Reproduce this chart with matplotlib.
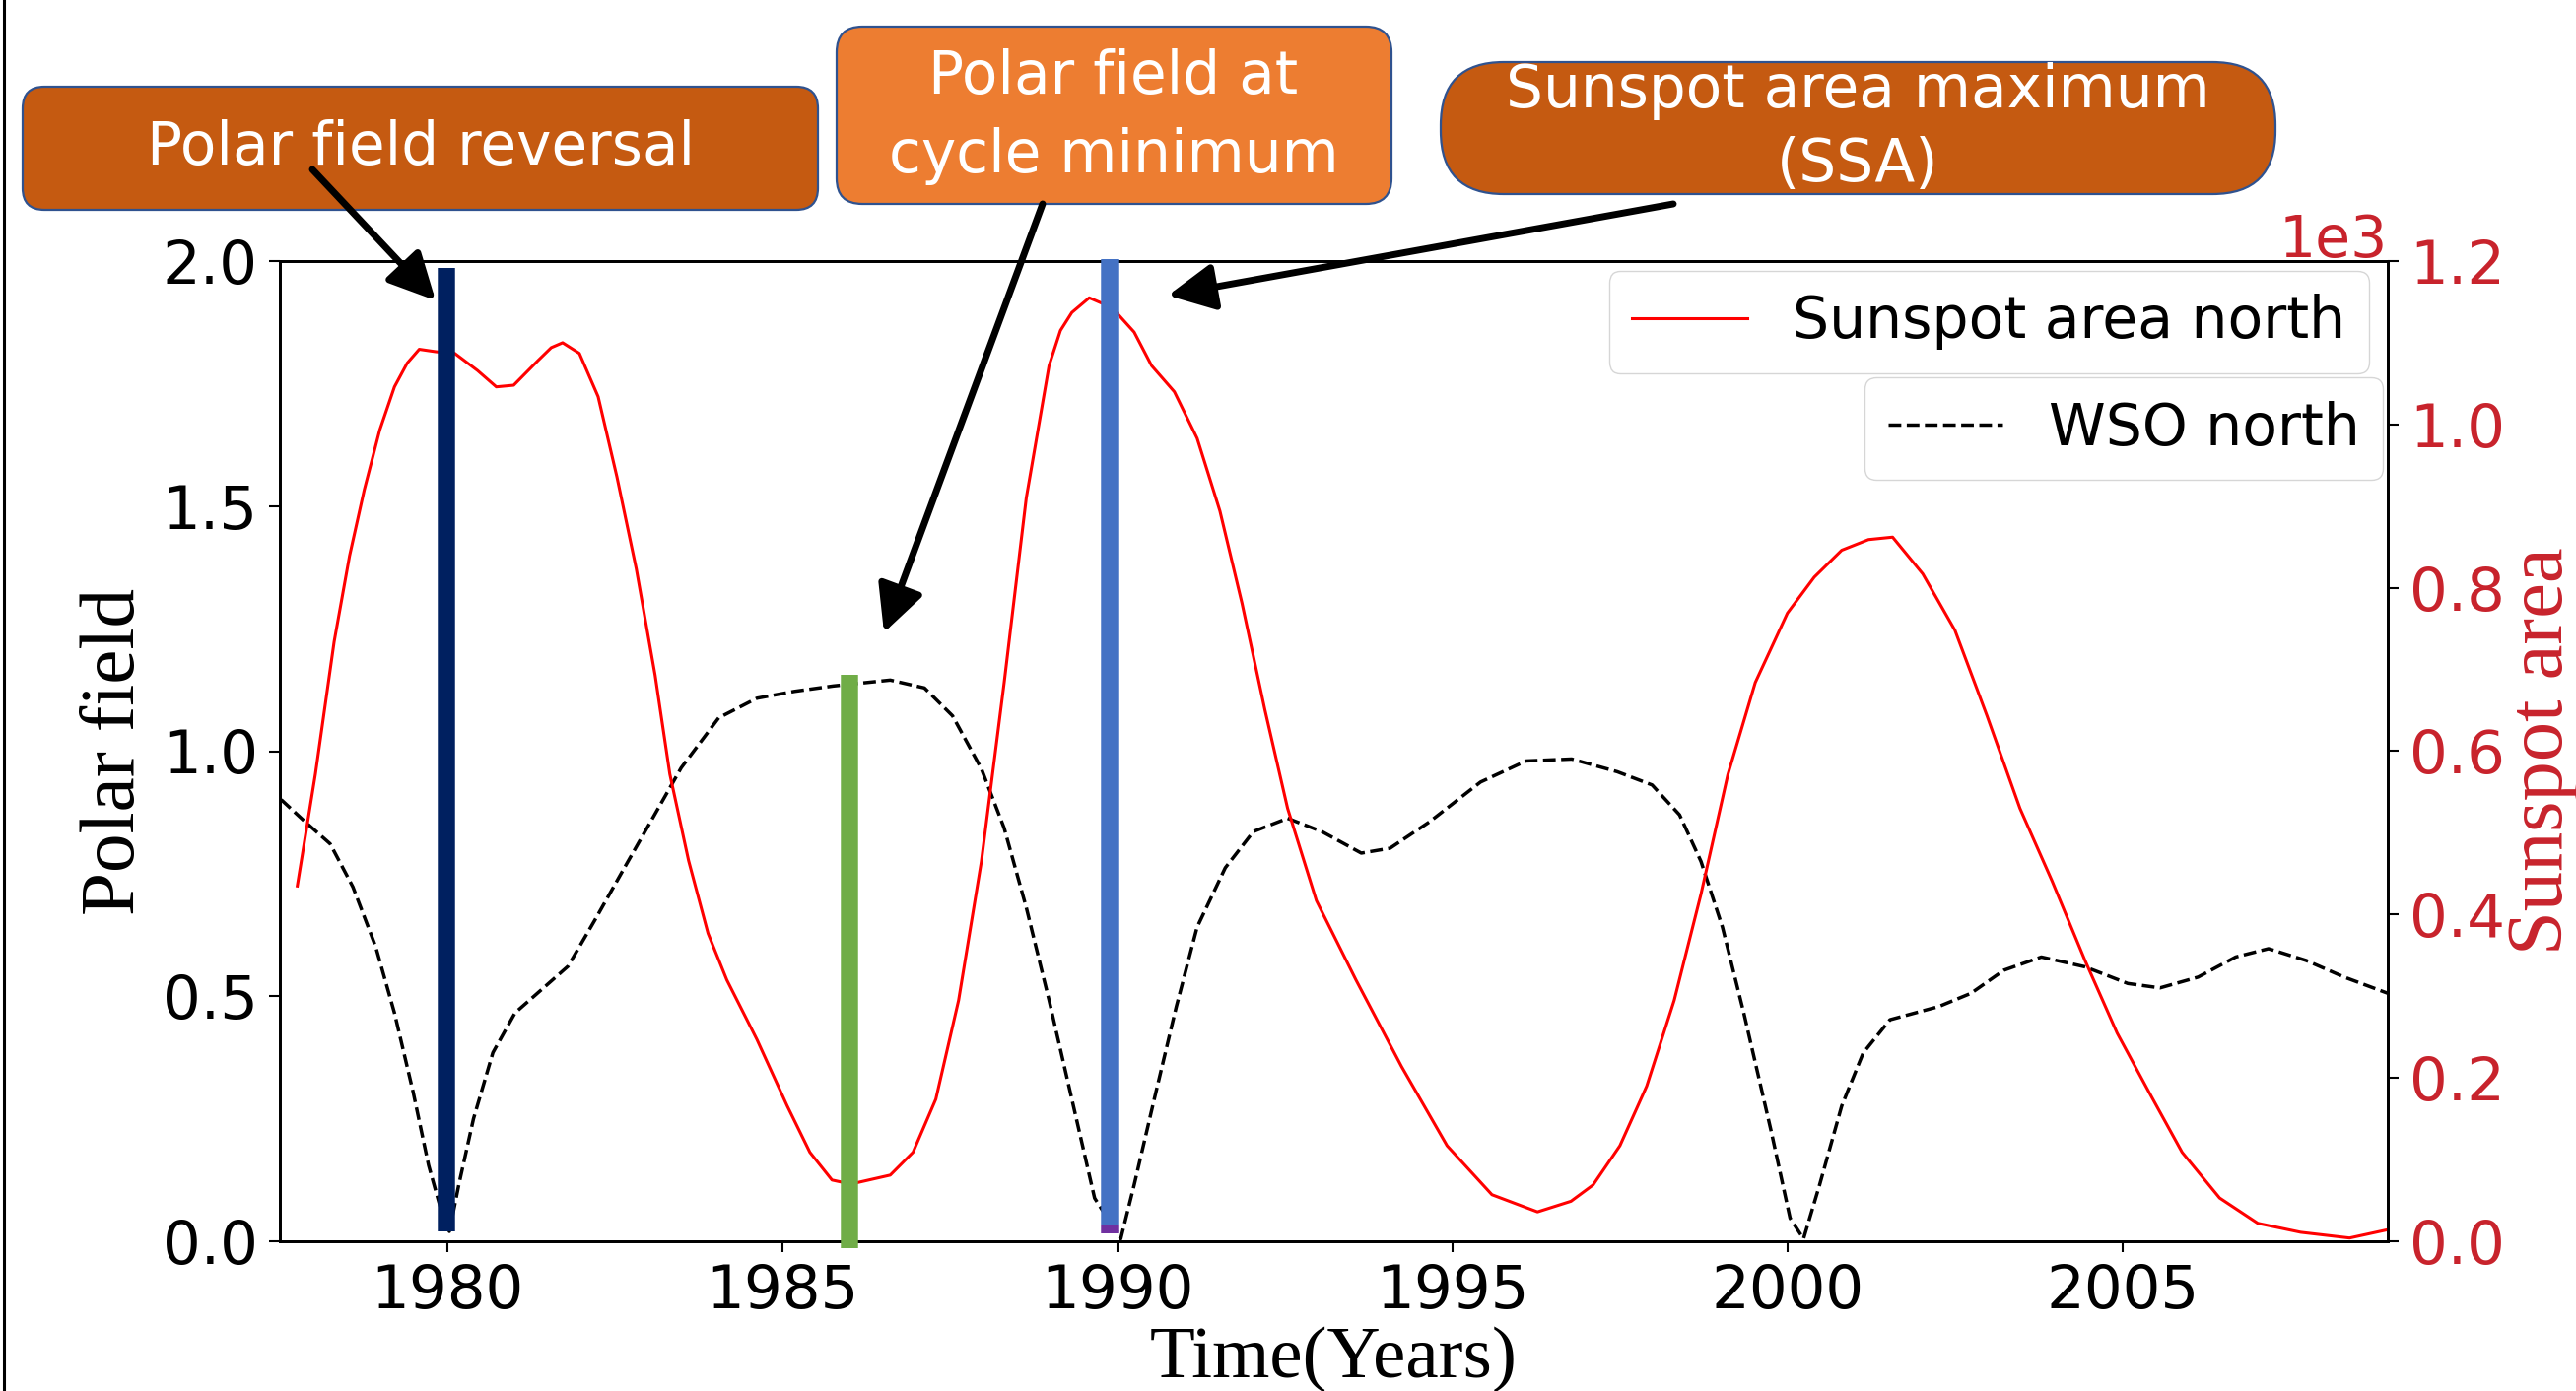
import numpy as np
import matplotlib
matplotlib.use('Agg')
from matplotlib import pyplot as plt
from matplotlib.patches import FancyBboxPatch
from matplotlib.ticker import ScalarFormatter

# sunspot area (north)
ssa_year = [1977.76, 1978.03, 1978.31, 1978.54, 1978.76, 1978.99, 1979.21, 1979.40, 1979.58, 1979.83,
            1980.11, 1980.45, 1980.73, 1980.99, 1981.35, 1981.55, 1981.72, 1981.97, 1982.25, 1982.53,
            1982.82, 1983.10, 1983.32, 1983.60, 1983.89, 1984.17, 1984.62, 1985.07, 1985.41, 1985.74,
            1986.02, 1986.61, 1986.95, 1987.29, 1987.63, 1987.97, 1988.31, 1988.64, 1988.98, 1989.15,
            1989.32, 1989.58, 1989.92, 1990.25, 1990.51, 1990.85, 1991.19, 1991.53, 1991.86, 1992.20,
            1992.54, 1992.97, 1993.56, 1994.24, 1994.92, 1995.59, 1996.27, 1996.77, 1997.10, 1997.50,
            1997.90, 1998.31, 1998.71, 1999.11, 1999.52, 2000.00, 2000.40, 2000.81, 2001.21, 2001.57,
            2002.02, 2002.50, 2002.98, 2003.47, 2003.95, 2004.44, 2004.92, 2005.40, 2005.89, 2006.45,
            2007.02, 2007.66, 2008.39, 2008.95]
ssa_area = [435, 572, 734, 839, 920, 993, 1046, 1075, 1092, 1089,
            1087, 1066, 1046, 1048, 1078, 1094, 1100, 1087, 1034, 936,
            823, 693, 572, 466, 377, 320, 247, 166, 109, 75,
            70, 81, 109, 174, 295, 465, 684, 910, 1072, 1115,
            1137, 1155, 1143, 1113, 1072, 1040, 983, 894, 781, 651,
            530, 417, 320, 214, 117, 57, 36, 49, 69, 117,
            190, 295, 425, 571, 684, 769, 813, 846, 859, 862,
            817, 748, 643, 530, 441, 344, 255, 182, 109, 53,
            22, 11, 4, 14]

# WSO polar field (north), left axis
wso_year = [1977.52, 1977.86, 1978.25, 1978.59, 1978.93, 1979.21, 1979.49, 1979.72, 1979.94, 1980.03,
            1980.17, 1980.39, 1980.68, 1981.01, 1981.41, 1981.80, 1982.20, 1982.65, 1983.10, 1983.49,
            1984.05, 1984.62, 1985.18, 1985.76, 1986.61, 1987.12, 1987.54, 1987.97, 1988.31, 1988.64,
            1988.98, 1989.32, 1989.66, 1990.05, 1990.25, 1990.55, 1990.88, 1991.19, 1991.61, 1992.03,
            1992.54, 1993.05, 1993.64, 1994.07, 1994.66, 1995.42, 1996.10, 1996.78, 1997.46, 1997.98,
            1998.39, 1998.71, 1999.03, 1999.35, 1999.76, 2000.04, 2000.24, 2000.48, 2000.81, 2001.13,
            2001.53, 2002.26, 2002.74, 2003.23, 2003.79, 2004.44, 2005.08, 2005.56, 2006.13, 2006.69,
            2007.18, 2007.74, 2008.31, 2008.96]
wso_field = [0.901, 0.858, 0.811, 0.723, 0.601, 0.466, 0.304, 0.155, 0.047, 0.02,
             0.115, 0.25, 0.385, 0.466, 0.514, 0.561, 0.655, 0.764, 0.872, 0.966,
             1.068, 1.108, 1.122, 1.133, 1.145, 1.129, 1.072, 0.964, 0.843, 0.681,
             0.492, 0.29, 0.088, 0.005, 0.115, 0.29, 0.479, 0.641, 0.762, 0.836,
             0.863, 0.836, 0.792, 0.802, 0.856, 0.937, 0.980, 0.984, 0.958, 0.931,
             0.87, 0.775, 0.641, 0.465, 0.223, 0.047, 0.005, 0.115, 0.276, 0.384,
             0.452, 0.479, 0.506, 0.553, 0.58, 0.56, 0.526, 0.517, 0.539, 0.58,
             0.597, 0.573, 0.539, 0.506]

# marker bars: (year, bottom, top) in polar-field units
marker_year = [1979.98, 1986.0, 1989.88]
marker_bottom = [0.02, -0.014, 0.034]
marker_top = [1.986, 1.156, 2.004]
marker_color = ['#002060', '#70AD47', '#4472C4']

W, H = 2614, 1412
RED_AX = '#c8232c'

fig = plt.figure(figsize=(W / 100, H / 100), dpi=100)
ax = fig.add_axes([284 / W, 1 - 1260 / H, (2423 - 284) / W, (1260 - 265) / H])
ax2 = ax.twinx()

ax2.plot(ssa_year, ssa_area, color='red', lw=2.2, label='Sunspot area north')
ax.plot(wso_year, wso_field, color='black', lw=2.5, ls='--', label='WSO north')

ax.set_xlim(1977.5, 2008.96)
ax.set_ylim(0, 2.0)
ax2.set_ylim(0, 1200)
ax.set_xticks([1980, 1985, 1990, 1995, 2000, 2005])
ax.set_yticks([0.0, 0.5, 1.0, 1.5, 2.0])
ax2.set_yticks([0, 200, 400, 600, 800, 1000, 1200])

fmt = ScalarFormatter(useMathText=False)
fmt.set_powerlimits((3, 3))
ax2.yaxis.set_major_formatter(fmt)

ax.tick_params(labelsize=44, length=8, width=1.5, pad=8)
ax2.tick_params(labelsize=44, length=8, width=1.5, pad=8, colors=RED_AX)
ax2.tick_params(color='black')
ax2.yaxis.get_offset_text().set_fontsize(42)
ax2.yaxis.get_offset_text().set_color(RED_AX)
for a in (ax, ax2):
    for s in a.spines.values():
        s.set_linewidth(2)

serif = ['Liberation Serif', 'DejaVu Serif']
ax.set_ylabel('Polar field', fontsize=57, family=serif, va='center')
ax.yaxis.set_label_coords(-0.078, 0.5)
ax.set_xlabel('Time(Years)', fontsize=54, family=serif, va='center')
ax.xaxis.set_label_coords(0.5, -0.121)
ax2.set_ylabel('Sunspot area', fontsize=58, family=serif, color=RED_AX, va='center')
ax2.yaxis.set_label_coords(1.0734, 0.5)

ax2.legend(loc='upper right', bbox_to_anchor=(0.991, 0.99), borderaxespad=0, fontsize=42)
ax.legend(loc='upper right', bbox_to_anchor=(0.9977, 0.881), borderaxespad=0, fontsize=42)

# coloured marker bars
for yr, lo, hi, c in zip(marker_year, marker_bottom, marker_top, marker_color):
    ax2.plot([yr, yr], [lo * 600, hi * 600], color=c, lw=12.6, solid_capstyle='butt',
             clip_on=False, zorder=5)
ax2.plot([marker_year[2], marker_year[2]], [0.016 * 600, 0.034 * 600], color='#7030A0',
         lw=12.6, solid_capstyle='butt', clip_on=False, zorder=5)

# overlay in pixel coordinates for the call-out boxes
ov = fig.add_axes([0, 0, 1, 1], zorder=10)
ov.set_xlim(0, W)
ov.set_ylim(H, 0)
ov.axis('off')
ov.patch.set_visible(False)

ov.plot([4, 4], [0, H], color='black', lw=2.2)

boxes = [
    (23, 88, 807, 125, 22, '#C55A11'),
    (849, 27, 563, 180, 26, '#ED7D31'),
    (1462, 63, 847, 134, 64, '#C55A11'),
]
for x0, y0, bw, bh, r, fc in boxes:
    ov.add_patch(FancyBboxPatch((x0, y0), bw, bh, boxstyle=f'round,pad=0,rounding_size={r}',
                                fc=fc, ec='#2F528F', lw=1.6))

box_font = dict(color='white', fontsize=43, ha='center', va='center', family='DejaVu Sans')
ov.text(427, 150, 'Polar field reversal', **box_font)
ov.text(1130, 78, 'Polar field at', **box_font)
ov.text(1130, 158, 'cycle minimum', **box_font)
ov.text(1885, 92, 'Sunspot area maximum', **box_font)
ov.text(1885, 167, '(SSA)', **box_font)

arrow = dict(arrowstyle='-|>,head_length=0.9,head_width=0.45', color='black', lw=5,
             mutation_scale=32, shrinkA=0, shrinkB=0)
ov.annotate('', xy=(442, 305), xytext=(317, 172), arrowprops=arrow)
ov.annotate('', xy=(897, 642), xytext=(1058, 207), arrowprops=arrow)
ov.annotate('', xy=(1185, 300), xytext=(1698, 207), arrowprops=arrow)

fig.savefig('out.png', dpi=100)
